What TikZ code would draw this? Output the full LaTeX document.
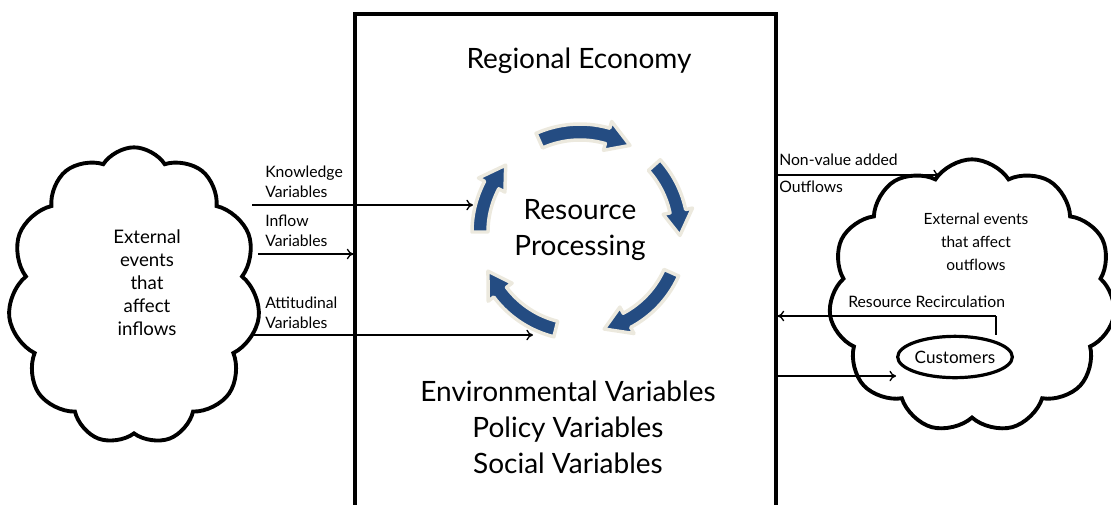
\documentclass[tikz,border=0pt]{standalone}
\usepackage{fontspec}
\setmainfont{Lato}
\usetikzlibrary{shapes.symbols,shapes.geometric,arrows.meta}
\definecolor{cycblue}{RGB}{36,76,130}
\definecolor{cycedge}{RGB}{236,233,222}
\tikzset{
  cyc/.style={fill=cycblue,draw=cycedge,line width=2.6pt,line join=round},
  cloudbox/.style={cloud,draw,line width=2.9pt,cloud puffs=11,cloud puff arc=115,inner sep=0pt},
  lbl/.style={anchor=base west,inner sep=0pt,font=\fontsize{11.8}{13}\selectfont},
  conn/.style={line width=1pt,-{To[length=5pt,width=8pt]}},
  plainline/.style={line width=1pt},
}
\newcommand{\cycarrow}[2]{%
  \pgfmathsetmacro{\hb}{#2-14}%
  \filldraw[cyc] plot[domain=#1:\hb,samples=20,variable=\t] (\t:108)
    -- (\hb:115) -- (#2:100) -- (\hb:85)
    -- plot[domain=\hb:#1,samples=20,variable=\t] (\t:92) -- cycle;
}
\begin{document}
\begin{tikzpicture}[x=0.75pt,y=-0.75pt]
\useasboundingbox (0,0) rectangle (1111,504);
\clip (0,0) rectangle (1111,504);
% main box
\node[draw,line width=2.3pt,minimum width=315.75pt,minimum height=372pt,inner sep=0pt] (box) at (565.5,262) {};
\node[font=\fontsize{21}{24}\selectfont] (title) at (579,61) {Regional Economy};
\node[font=\fontsize{21}{27}\selectfont,align=center] (vars) at (568,427) {Environmental Variables\\Policy Variables\\Social Variables};
% cycle
\begin{scope}[shift={(580,232)}]
  \cycarrow{-114}{-60}
  \cycarrow{-42}{2}
  \cycarrow{24}{76}
  \cycarrow{104}{157}
  \cycarrow{180}{222}
  \coordinate (cycL) at (-107,-27);
  \coordinate (cycB) at (-47,103);
\end{scope}
\node[font=\fontsize{21}{26.5}\selectfont,align=center] (rp) at (580,230) {Resource\\Processing};
% clouds
\node[cloudbox,minimum width=189pt,minimum height=223pt] (lcloud) at (134,296) {};
\node[align=center,font=\fontsize{14}{17.3}\selectfont] (ltext) at (147,283) {External\\events\\that\\affect\\inflows};
\node[cloudbox,minimum width=215pt,minimum height=205pt] (rcloud) at (972,296) {};
\node[align=center,font=\fontsize{11.6}{17.3}\selectfont] (rtext) at (976,242) {External events\\that affect\\outflows};
\node[ellipse,draw,line width=2.4pt,minimum width=86pt,minimum height=31pt,inner sep=0pt,font=\fontsize{12.8}{14}\selectfont] (cust) at (955,357) {Customers};
% left connectors
\coordinate (k0) at (252,205);
\coordinate (i0) at (258,254);
\coordinate (a0) at (252,335);
\draw[conn] (k0) -- (cycL);
\draw[conn] (i0) -- (box.west |- i0);
\draw[conn] (a0) -- (cycB);
\node[lbl] (lk1) at (265,177) {Knowledge};
\node[lbl] (lk2) at (265,197) {Variables};
\node[lbl] (li1) at (265,226) {Inflow};
\node[lbl] (li2) at (265,246) {Variables};
\node[lbl] (la1) at (265,308) {Attitudinal};
\node[lbl] (la2) at (265,328) {Variables};
% right connectors
\coordinate (n1) at (940,175);
\draw[conn] (box.east |- n1) -- (n1);
\node[lbl] (ln1) at (779,165) {Non-value added};
\node[lbl] (ln2) at (779,192) {Outflows};
\coordinate (rr) at (996,316);
\draw[plainline] (cust.north -| rr) -- (rr);
\draw[conn] (rr) -- (box.east |- rr);
\node[lbl] (lrr) at (848,307) {Resource Recirculation};
\coordinate (c0) at (776,376);
\draw[conn] (box.east |- c0) -- (cust.west |- c0);
\end{tikzpicture}
\end{document}
